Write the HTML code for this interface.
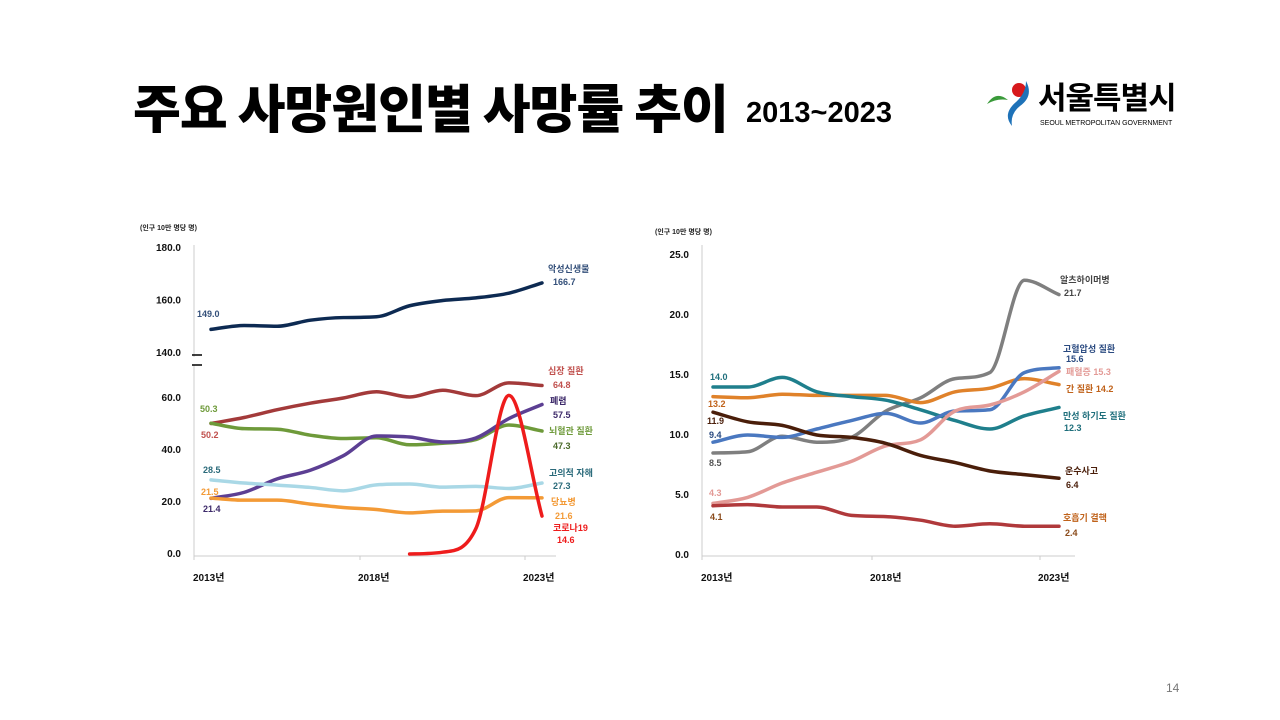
<!DOCTYPE html>
<html><head><meta charset="utf-8">
<style>
body{margin:0;background:#fff;}
#root{position:relative;width:1280px;height:720px;overflow:hidden;background:#fff;font-family:"Liberation Sans","Noto Sans CJK KR",sans-serif;}
.t{position:absolute;white-space:nowrap;}
svg text{font-family:"Liberation Sans","Noto Sans CJK KR",sans-serif;}
</style></head>
<body>
<div id="root">
<div class="t" style="left:133px;top:68px;font-size:52px;font-weight:900;letter-spacing:-1px;color:#000;font-family:'Noto Sans CJK KR',sans-serif;">주요 사망원인별 사망률 추이</div>
<div class="t" style="left:746px;top:97px;font-size:29px;font-weight:bold;color:#000;">2013~2023</div>
<div style="position:absolute;left:982px;top:78px;width:200px;height:52px;">
<svg width="200" height="52">
<circle cx="37" cy="12" r="7" fill="#d7191c"/>
<path d="M5 26 Q14 12 26 22 Q15 20 5 26Z" fill="#3a9a3a"/>
<path d="M44 3 Q52 18 38 28 Q28 36 30 48 Q20 36 34 24 Q44 15 44 3Z" fill="#1e72b8"/>
</svg>
<div class="t" style="left:56px;top:-5px;font-size:31px;font-weight:bold;font-family:'Noto Sans CJK KR',sans-serif;letter-spacing:-1px;">서울특별시</div>
<div class="t" style="left:58px;top:42px;font-size:7px;">SEOUL METROPOLITAN GOVERNMENT</div>
</div>
<div class="t" style="left:1166px;top:681px;font-size:12px;color:#777;">14</div>
<svg id="chart" width="1280" height="720" style="position:absolute;left:0;top:0"></svg>
</div>
<script>
const years=[2013,2014,2015,2016,2017,2018,2019,2020,2021,2022,2023];
const cancer=[149.0,150.5,150.2,152.5,153.5,153.8,158.0,160.0,161.0,162.8,166.7];
const heart=[50.2,52.5,55.5,58.0,60.0,62.4,60.4,63.0,60.9,65.8,64.8];
const pneumonia=[21.4,23.7,28.9,32.2,37.8,45.4,45.0,43.1,44.6,52.1,57.5];
const stroke=[50.3,48.2,48.0,45.7,44.4,44.7,42.0,42.6,44.0,49.6,47.3];
const suicide=[28.5,27.3,26.5,25.6,24.3,26.6,26.9,25.7,26.0,25.2,27.3];
const diabetes=[21.5,20.7,20.7,19.2,17.9,17.1,15.8,16.5,16.6,21.7,21.6];
const covid=[null,null,null,null,null,null,0.0,0.7,9.7,61.0,14.6];
const leftTicks=["0.0","20.0","40.0","60.0","140.0","160.0","180.0"];
const leftTickVals=[0,20,40,60,140,160,180];
const alz=[8.5,8.6,9.9,9.4,9.8,12.0,13.1,14.7,15.2,22.9,21.7];
const hyper=[9.4,10.0,9.8,10.5,11.2,11.8,11.0,12.0,12.1,15.2,15.6];
const sepsis=[4.3,4.8,6.0,6.9,7.8,9.1,9.6,12.0,12.5,13.6,15.3];
const liver=[13.2,13.1,13.4,13.3,13.3,13.3,12.7,13.6,13.9,14.7,14.2];
const copd=[14.0,14.0,14.8,13.6,13.2,12.9,12.1,11.2,10.5,11.6,12.3];
const traffic=[11.9,11.1,10.8,10.0,9.8,9.3,8.3,7.7,7.0,6.7,6.4];
const tb=[4.1,4.2,4.0,4.0,3.3,3.2,2.9,2.4,2.6,2.4,2.4];
const rightTicks=["0.0","5.0","10.0","15.0","20.0","25.0"];
const rightTickVals=[0,5,10,15,20,25];
const xTickLabels=["2013년","2018년","2023년"];

const svg=document.getElementById('chart');
const NS='http://www.w3.org/2000/svg';
function mk(tag,attrs,name){const e=document.createElementNS(NS,tag);for(const k in attrs)e.setAttribute(k,attrs[k]);


svg.appendChild(e);return e;}
function txt(x,y,s,name,opt){const e=mk('text',Object.assign({x:x,y:y,'font-size':9,'font-weight':'bold',fill:'#333'},opt||{}),name);e.textContent=s;return e;}
function smooth(p){const n=p.length;if(n<2)return'';const dx=[],s=[];for(let i=0;i<n-1;i++){dx.push(p[i+1][0]-p[i][0]);s.push((p[i+1][1]-p[i][1])/dx[i]);}
const m=[s[0]];for(let i=1;i<n-1;i++){m.push(s[i-1]*s[i]<=0?0:(s[i-1]+s[i])/2);}m.push(s[n-2]);
for(let i=0;i<n-1;i++){if(s[i]===0){m[i]=0;m[i+1]=0;continue;}const a=m[i]/s[i],b=m[i+1]/s[i],h=a*a+b*b;if(h>9){const t=3/Math.sqrt(h);m[i]=t*a*s[i];m[i+1]=t*b*s[i];}}
let d='M'+p[0][0]+' '+p[0][1];for(let i=0;i<n-1;i++){const h=dx[i]/3;d+=' C'+(p[i][0]+h)+' '+(p[i][1]+m[i]*h)+' '+(p[i+1][0]-h)+' '+(p[i+1][1]-m[i+1]*h)+' '+p[i+1][0]+' '+p[i+1][1];}return d;}
function series(vals,xs,ys,color,name,w){const pts=[];vals.forEach((v,i)=>{if(v!==null)pts.push([xs(years[i]),ys(v)]);});
mk('path',{d:smooth(pts),fill:'none',stroke:color,'stroke-width':w||3.5,'stroke-linecap':'round'},name);}

const lx=y=>211+(y-2013)*33.1;
const lyLow=v=>554-v*2.6;
const lyHigh=v=>353-(v-140)*2.625;
const lyTick=v=>v<=60?lyLow(v):lyHigh(v);
mk('line',{x1:194,y1:245,x2:194,y2:557,stroke:'#ccc'},'left-y-axis');
mk('line',{x1:194,y1:556,x2:556,y2:556,stroke:'#ccc'},'left-x-axis');
mk('rect',{x:188,y:357,width:12,height:8,fill:'#fff'},'left-axis-break-gap');
mk('line',{x1:192,y1:355,x2:202,y2:355,stroke:'#000','stroke-width':1.5},'left-axis-break-top');
mk('line',{x1:192,y1:365,x2:202,y2:365,stroke:'#000','stroke-width':1.5},'left-axis-break-bottom');
leftTickVals.forEach((v,i)=>txt(181,lyTick(v)+3,leftTicks[i],'left-y-tick',{'text-anchor':'end','font-size':10,fill:'#111'}));
[194,360,525].forEach(x=>mk('line',{x1:x,y1:556,x2:x,y2:560,stroke:'#ccc'},'left-x-tick-mark'));
txt(193,581,xTickLabels[0],'left-x-tick',{'font-size':10,fill:'#111'});
txt(358,581,xTickLabels[1],'left-x-tick',{'font-size':10,fill:'#111'});
txt(523,581,xTickLabels[2],'left-x-tick',{'font-size':10,fill:'#111'});
txt(140,230,'(인구 10만 명당 명)','left-unit-label',{'font-size':7,fill:'#222'});
series(cancer,lx,lyHigh,'#0d2a52','line-cancer');
series(heart,lx,lyLow,'#a33a3a','line-heart');
series(stroke,lx,lyLow,'#6e9a3a','line-stroke');
series(pneumonia,lx,lyLow,'#5c3f93','line-pneumonia');
series(suicide,lx,lyLow,'#a9d8e6','line-suicide');
series(diabetes,lx,lyLow,'#f39a36','line-diabetes');
series(covid,lx,lyLow,'#ee1c1c','line-covid');
txt(197,317,'149.0','label-cancer-start',{fill:'#34507a'});
txt(548,272,'악성신생물','label-cancer-name',{fill:'#34507a'});
txt(553,285,'166.7','label-cancer-end',{fill:'#34507a'});
txt(548,374,'심장 질환','label-heart-name',{fill:'#c0504d'});
txt(553,388,'64.8','label-heart-end',{fill:'#c0504d'});
txt(201,438,'50.2','label-heart-start',{fill:'#c0504d'});
txt(200,412,'50.3','label-stroke-start',{fill:'#6e9a3a'});
txt(550,404,'폐렴','label-pneumonia-name',{fill:'#3d2a6a'});
txt(553,418,'57.5','label-pneumonia-end',{fill:'#3d2a6a'});
txt(549,434,'뇌혈관 질환','label-stroke-name',{fill:'#6e9a3a'});
txt(553,449,'47.3','label-stroke-end',{fill:'#4a6a2a'});
txt(203,473,'28.5','label-suicide-start',{fill:'#2a6a7a'});
txt(549,476,'고의적 자해','label-suicide-name',{fill:'#2a6a7a'});
txt(553,489,'27.3','label-suicide-end',{fill:'#2a6a7a'});
txt(201,495,'21.5','label-diabetes-start',{fill:'#f39a36'});
txt(203,512,'21.4','label-pneumonia-start',{fill:'#3d2a6a'});
txt(551,505,'당뇨병','label-diabetes-name',{fill:'#f39a36'});
txt(555,519,'21.6','label-diabetes-end',{fill:'#f39a36'});
txt(553,531,'코로나19','label-covid-name',{fill:'#ee1c1c'});
txt(557,543,'14.6','label-covid-end',{fill:'#ee1c1c'});

const rx=y=>713+(y-2013)*34.6;
const ry=v=>555-v*12;
mk('line',{x1:702,y1:245,x2:702,y2:556,stroke:'#ccc'},'right-y-axis');
mk('line',{x1:702,y1:556,x2:1075,y2:556,stroke:'#ccc'},'right-x-axis');
rightTickVals.forEach((v,i)=>txt(689,ry(v)+3,rightTicks[i],'right-y-tick',{'text-anchor':'end','font-size':10,fill:'#111'}));
[702,872,1040].forEach(x=>mk('line',{x1:x,y1:556,x2:x,y2:560,stroke:'#ccc'},'right-x-tick-mark'));
txt(701,581,xTickLabels[0],'right-x-tick',{'font-size':10,fill:'#111'});
txt(870,581,xTickLabels[1],'right-x-tick',{'font-size':10,fill:'#111'});
txt(1038,581,xTickLabels[2],'right-x-tick',{'font-size':10,fill:'#111'});
txt(655,234,'(인구 10만 명당 명)','right-unit-label',{'font-size':7,fill:'#222'});
series(alz,rx,ry,'#7f7f7f','line-alzheimer');
series(liver,rx,ry,'#e0822a','line-liver');
series(copd,rx,ry,'#1f7f8c','line-copd');
series(hyper,rx,ry,'#4a78c0','line-hypertension');
series(sepsis,rx,ry,'#e39a96','line-sepsis');
series(traffic,rx,ry,'#4a1e0a','line-traffic');
series(tb,rx,ry,'#b0393b','line-tb');
txt(1060,283,'알츠하이머병','label-alz-name',{fill:'#444'});
txt(1064,296,'21.7','label-alz-end',{fill:'#444'});
txt(1063,352,'고혈압성 질환','label-hyper-name',{fill:'#2a4a80'});
txt(1066,362,'15.6','label-hyper-end',{fill:'#2a4a80'});
txt(1066,375,'패혈증 15.3','label-sepsis-end',{fill:'#e39a96'});
txt(1066,392,'간 질환  14.2','label-liver-end',{fill:'#c0621a'});
txt(1063,419,'만성 하기도 질환','label-copd-name',{fill:'#1f6f7c'});
txt(1064,431,'12.3','label-copd-end',{fill:'#1f6f7c'});
txt(1065,474,'운수사고','label-traffic-name',{fill:'#4a1e0a'});
txt(1066,488,'6.4','label-traffic-end',{fill:'#4a1e0a'});
txt(1063,521,'호흡기 결핵','label-tb-name',{fill:'#c0621a'});
txt(1065,536,'2.4','label-tb-end',{fill:'#8a4a1a'});
txt(710,380,'14.0','label-copd-start',{fill:'#1f6f7c'});
txt(708,407,'13.2','label-liver-start',{fill:'#c0621a'});
txt(707,424,'11.9','label-traffic-start',{fill:'#4a1e0a'});
txt(709,438,'9.4','label-hyper-start',{fill:'#2a4a80'});
txt(709,466,'8.5','label-alz-start',{fill:'#555'});
txt(709,496,'4.3','label-sepsis-start',{fill:'#e39a96'});
txt(710,520,'4.1','label-tb-start',{fill:'#8a4a1a'});
</script>
</body></html>
